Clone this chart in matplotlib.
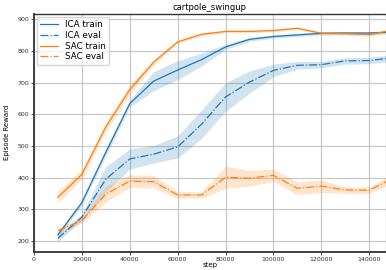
import matplotlib
matplotlib.use("Agg")
import matplotlib.pyplot as plt
import numpy as np

# data
steps = [10000, 20000, 30000, 40000, 50000, 60000, 70000, 80000,
         90000, 100000, 110000, 120000, 130000, 140000, 150000]

ica_train = [219, 321, 480, 634, 705, 740, 773, 813, 837, 846, 851, 856, 857, 857, 860]
ica_train_sd = [8, 8, 12, 10, 30, 30, 20, 8, 6, 5, 5, 5, 5, 5, 5]

ica_eval = [208, 275, 395, 459, 474, 497, 569, 655, 702, 739, 755, 757, 769, 770, 779]
ica_eval_sd = [10, 10, 40, 32, 28, 35, 45, 45, 35, 20, 12, 10, 10, 10, 10]

sac_train = [338, 410, 560, 678, 765, 829, 853, 862, 862, 865, 872, 856, 855, 852, 866]
sac_train_sd = [18, 15, 15, 15, 8, 5, 5, 4, 4, 4, 4, 5, 5, 5, 5]

sac_eval = [232, 264, 348, 389, 387, 345, 345, 401, 398, 407, 366, 373, 361, 360, 398]
sac_eval_sd = [10, 8, 25, 20, 20, 10, 10, 35, 25, 20, 20, 20, 10, 10, 15]

series = [
    ("ICA train", ica_train, ica_train_sd, "#1f77b4", "-"),
    ("ICA eval", ica_eval, ica_eval_sd, "#1f77b4", "-."),
    ("SAC train", sac_train, sac_train_sd, "#ff7f0e", "-"),
    ("SAC eval", sac_eval, sac_eval_sd, "#ff7f0e", "-."),
]

fig = plt.figure(figsize=(3.86, 2.70), dpi=100)
ax = fig.add_axes([0.088, 0.068, 0.912, 0.88])

x = np.array(steps)
for label, mean, sd, color, ls in series:
    mean = np.array(mean, dtype=float)
    sd = np.array(sd, dtype=float)
    ax.fill_between(x, mean - sd, mean + sd, color=color, alpha=0.2, linewidth=0)
    ax.plot(x, mean, color=color, linestyle=ls, linewidth=0.9, label=label)

ax.set_xlim(0, 147000)
ax.set_ylim(166, 917)
ax.set_xticks(range(0, 140001, 20000))
ax.set_yticks(range(200, 901, 100))
ax.grid(True, color="#c8c8c8", linewidth=0.9)
ax.set_axisbelow(True)
ax.tick_params(labelsize=4.5, length=2, width=0.6, pad=1.5, colors="#333333")

for side in ["left", "bottom", "top", "right"]:
    ax.spines[side].set_color("#333333")
ax.spines["left"].set_linewidth(1.3)
ax.spines["bottom"].set_linewidth(1.3)
ax.spines["top"].set_linewidth(1.0)

ax.set_title("cartpole_swingup", fontsize=6, pad=3)
ax.set_xlabel("step", fontsize=5, labelpad=0.5)
ax.set_ylabel("Episode Reward", fontsize=5, labelpad=5)

ax.legend(loc="upper left", fontsize=6.3, handlelength=2.0, borderpad=0.4,
          labelspacing=0.2, framealpha=0.8, borderaxespad=0.3)

fig.savefig("out.png", dpi=100)
